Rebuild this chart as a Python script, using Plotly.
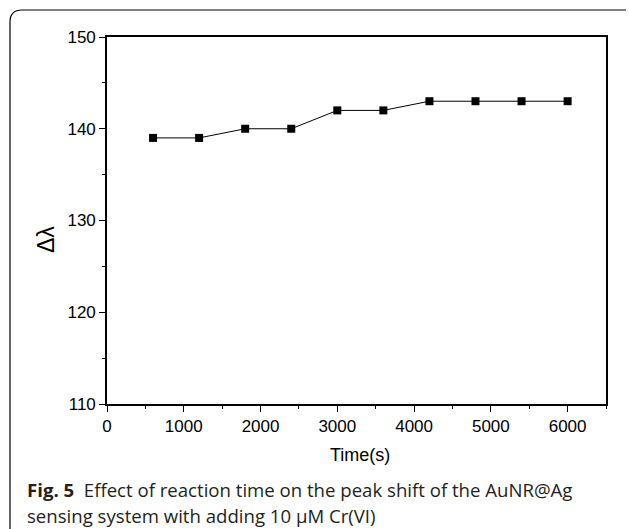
import plotly.graph_objects as go

time_s = [600, 1200, 1800, 2400, 3000, 3600, 4200, 4800, 5400, 6000]
delta_lambda = [139, 139, 140, 140, 142, 142, 143, 143, 143, 143]
x_ticks = [0, 1000, 2000, 3000, 4000, 5000, 6000]
y_ticks = [110, 120, 130, 140, 150]

W, H = 629, 529
L, R, T, B = 107, 606, 37, 404

def fx(px):
    return (px - L) / (R - L)

def fy(py):
    return (B - py) / (B - T)

fig = go.Figure()
fig.add_trace(go.Scatter(
    x=time_s, y=delta_lambda, mode="lines+markers",
    line=dict(color="black", width=1),
    marker=dict(symbol="square", size=8, color="black"),
    showlegend=False,
))

axis_common = dict(
    showgrid=False, zeroline=False, showline=True, linecolor="black",
    linewidth=1.6, mirror=True, ticks="outside", ticklen=6, tickwidth=1.3,
    tickcolor="black", tickfont=dict(family="Liberation Sans, Arial", size=17, color="black"),
)
fig.update_xaxes(
    range=[0, 6500], tickvals=x_ticks, ticktext=[str(v) for v in x_ticks],
    minor=dict(ticks="outside", ticklen=3, tickwidth=1.3, tickcolor="black", dtick=500, tick0=0),
    **axis_common,
)
fig.update_yaxes(
    range=[110, 150], tickvals=y_ticks, ticktext=[str(v) for v in y_ticks],
    minor=dict(ticks="outside", ticklen=3, tickwidth=1.3, tickcolor="black", dtick=5, tick0=110),
    **axis_common,
)

# rounded frame (top and left edges)
r = 12
x0, y0 = 10, 10
path = (f"M {fx(x0)},{fy(H+5)} L {fx(x0)},{fy(y0+r)} "
        f"Q {fx(x0)},{fy(y0)} {fx(x0+r)},{fy(y0)} L {fx(W-3)},{fy(y0)}")
fig.add_shape(type="path", path=path, xref="paper", yref="paper",
              line=dict(color="black", width=1.2), layer="above")

fig.add_annotation(text="Time(s)", x=fx(360), y=fy(455), xref="paper", yref="paper",
                   xanchor="center", yanchor="middle", showarrow=False,
                   font=dict(family="Liberation Sans, Arial", size=18, color="black"))
fig.add_annotation(text="Δλ", x=fx(46), y=fy(240), xref="paper", yref="paper",
                   xanchor="center", yanchor="middle",
                   textangle=-90, showarrow=False,
                   font=dict(family="Liberation Sans, Arial", size=23, color="black"))

cap_font = dict(family="Open Sans, Noto Sans", size=18.6, color="#231f20")
fig.add_annotation(text="<b>Fig. 5</b>  Effect of reaction time on the peak shift of the AuNR@Ag",
                   x=fx(25), y=fy(490), xref="paper", yref="paper", xanchor="left",
                   yanchor="middle", showarrow=False, font=cap_font)
fig.add_annotation(text="sensing system with adding 10 μM Cr(VI)",
                   x=fx(25), y=fy(515), xref="paper", yref="paper", xanchor="left",
                   yanchor="middle", showarrow=False, font=cap_font)

fig.update_layout(
    width=W, height=H,
    margin=dict(l=L, r=W - R, t=T, b=H - B),
    paper_bgcolor="white", plot_bgcolor="white",
)
fig.write_html("out.html")
